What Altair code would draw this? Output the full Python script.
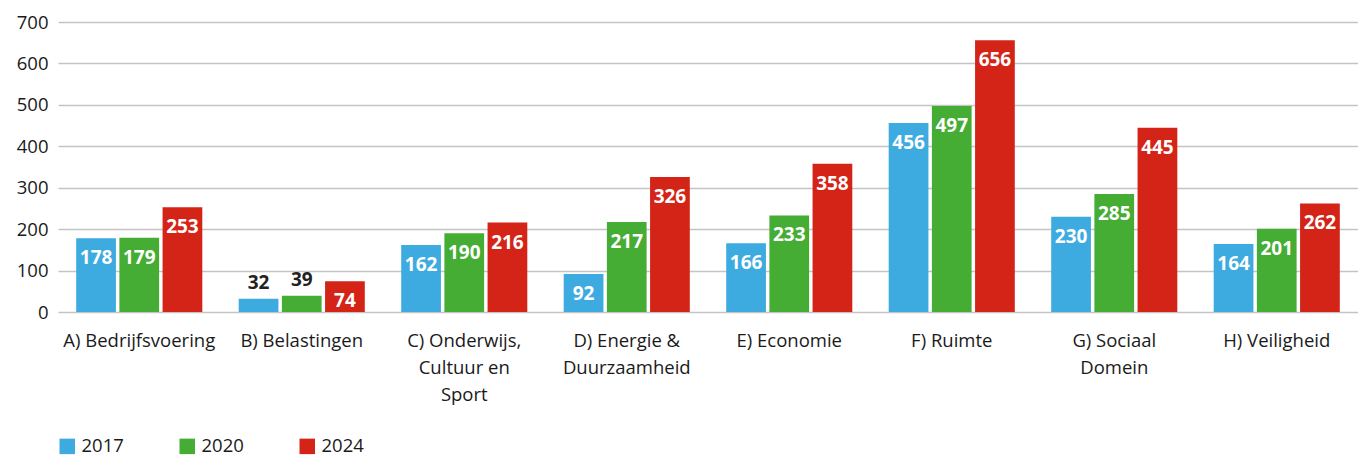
import altair as alt
import pandas as pd

categories = [
    "A) Bedrijfsvoering",
    "B) Belastingen",
    "C) Onderwijs,\nCultuur en\nSport",
    "D) Energie &\nDuurzaamheid",
    "E) Economie",
    "F) Ruimte",
    "G) Sociaal\nDomein",
    "H) Veiligheid",
]
years = ["2017", "2020", "2024"]
v2017 = [178, 32, 162, 92, 166, 456, 230, 164]
v2020 = [179, 39, 190, 217, 233, 497, 285, 201]
v2024 = [253, 74, 216, 326, 358, 656, 445, 262]
colors = ["#3DAAE0", "#45AC34", "#D42417"]
y_ticks = [0, 100, 200, 300, 400, 500, 600, 700]

rows = []
for yr, vals in zip(years, [v2017, v2020, v2024]):
    for c, v in zip(categories, vals):
        rows.append({"cat": c, "year": yr, "value": v})
df = pd.DataFrame(rows)

FONT = "Open Sans"

base = alt.Chart(df).encode(
    x=alt.X(
        "cat:N",
        sort=categories,
        title=None,
        scale=alt.Scale(paddingInner=0.224, paddingOuter=0.112),
        axis=alt.Axis(
            labelAngle=0,
            labelExpr="split(datum.value, '\\n')",
            labelLineHeight=27,
            labelPadding=19,
            labelFontSize=18.5,
            labelFont=FONT,
            labelColor="#1a1a1a",
            labelLimit=300,
            domain=False,
            ticks=False,
            grid=False,
        ),
    ),
    xOffset=alt.XOffset("year:N", sort=years, scale=alt.Scale(paddingInner=0.08)),
    y=alt.Y(
        "value:Q",
        title=None,
        scale=alt.Scale(domain=[0, 700], nice=False),
        axis=alt.Axis(
            values=y_ticks,
            grid=True,
            gridColor="#c4c4c4",
            gridWidth=1.3,
            domain=False,
            ticks=False,
            labelPadding=10,
            labelFontSize=18.5,
            labelFont=FONT,
            labelColor="#1a1a1a",
        ),
    ),
)

bars = base.mark_bar().encode(
    color=alt.Color(
        "year:N",
        sort=years,
        scale=alt.Scale(domain=years, range=colors),
        legend=alt.Legend(
            title=None,
            orient="none",
            legendX=0,
            legendY=415,
            direction="horizontal",
            symbolType="square",
            symbolSize=240,
            symbolStrokeWidth=0,
            labelFontSize=18.5,
            labelFont=FONT,
            labelColor="#1a1a1a",
            columnPadding=54,
            labelOffset=5,
        ),
    )
)

inside = base.transform_filter("datum.value >= 50").mark_text(
    baseline="middle", dy=20, color="white", fontWeight="bold", fontSize=19, font=FONT
).encode(text="value:Q")

outside = base.transform_filter("datum.value < 50").mark_text(
    baseline="middle", dy=-16, color="#222222", fontWeight="bold", fontSize=19, font=FONT
).encode(text="value:Q")

chart = (
    alt.layer(bars, inside, outside)
    .properties(
        width=1300,
        height=290,
        autosize=alt.AutoSizeParams(type="none"),
        padding={"left": 50, "top": 14, "right": 0, "bottom": 145},
    )
    .configure_view(stroke=None)
)

chart.save("out.html", embed_options={"renderer": "svg", "actions": False})
